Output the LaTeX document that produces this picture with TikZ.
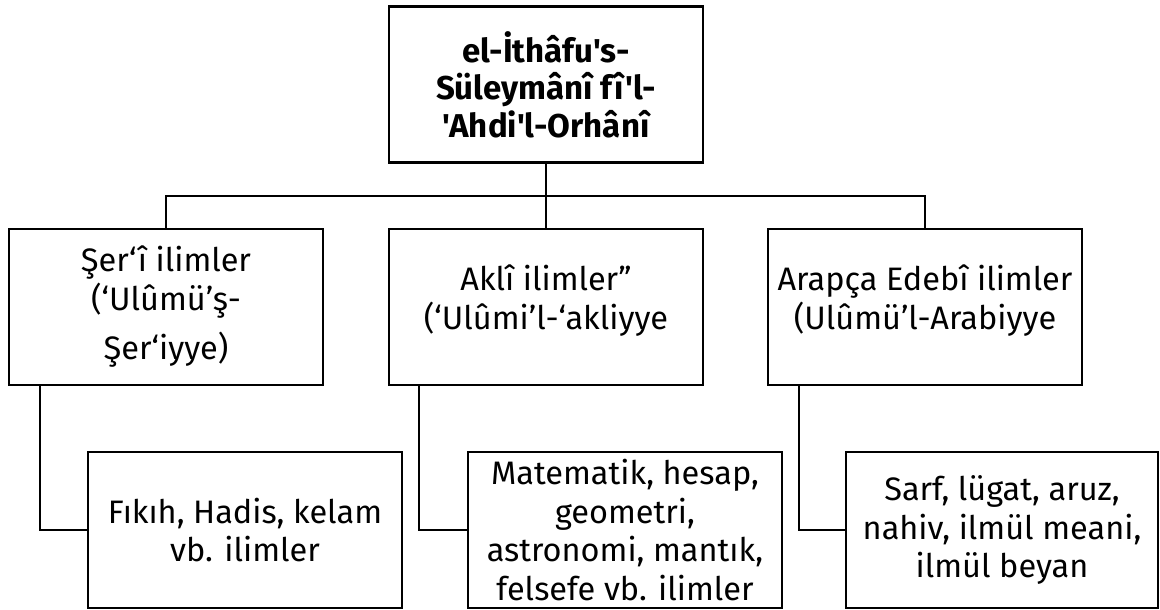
\documentclass[tikz,border=0pt]{standalone}
\usepackage{fontspec}
\newfontfamily\fira{Fira Sans}
\begin{document}
\begin{tikzpicture}[x=1pt,y=-1pt,
  box/.style={draw=black,line width=2.2pt,minimum width=314pt,minimum height=156pt,inner sep=0pt,align=center,
    font=\fira\fontsize{32.5}{38.5}\selectfont},
  raised/.style={text depth=20pt},
  topbox/.style={box,font=\fira\bfseries\fontsize{33}{37.5}\selectfont},
  link/.style={draw=black,line width=2.2pt}]
\useasboundingbox (0,0) rectangle (1160,610);
\node[topbox] (top) at (546,84.5) {el-İthâfu's-\\Süleymânî fî'l-\\'Ahdi'l-Orhânî};
\node[box] (l1) at (166,307) {Şer‘î ilimler\\(‘Ulûmü’ş-\\[11pt]Şer‘iyye)};
\node[box,raised] (m1) at (546,307) {Aklî ilimler”\\(‘Ulûmi’l-‘akliyye};
\node[box,raised] (r1) at (925,307) {Arapça Edebî ilimler\\(Ulûmü’l-Arabiyye};
\node[box] (l2) at (245,530) {Fıkıh, Hadis, kelam\\vb. ilimler};
\node[box] (m2) at (625,530) {Matematik, hesap,\\geometri,\\astronomi, mantık,\\felsefe vb. ilimler};
\node[box,minimum width=312pt] (r2) at (1002,530) {Sarf, lügat, aruz,\\nahiv, ilmül meani,\\ilmül beyan};
\coordinate (bus) at (546,196);
\draw[link] (top.south) -- (m1.north);
\draw[link] (l1.north) |- (bus) -| (r1.north);
\draw[link] ([xshift=32pt]l1.south west) |- (l2.west);
\draw[link] ([xshift=31pt]m1.south west) |- (m2.west);
\draw[link] ([xshift=32pt]r1.south west) |- (r2.west);
\end{tikzpicture}
\end{document}
